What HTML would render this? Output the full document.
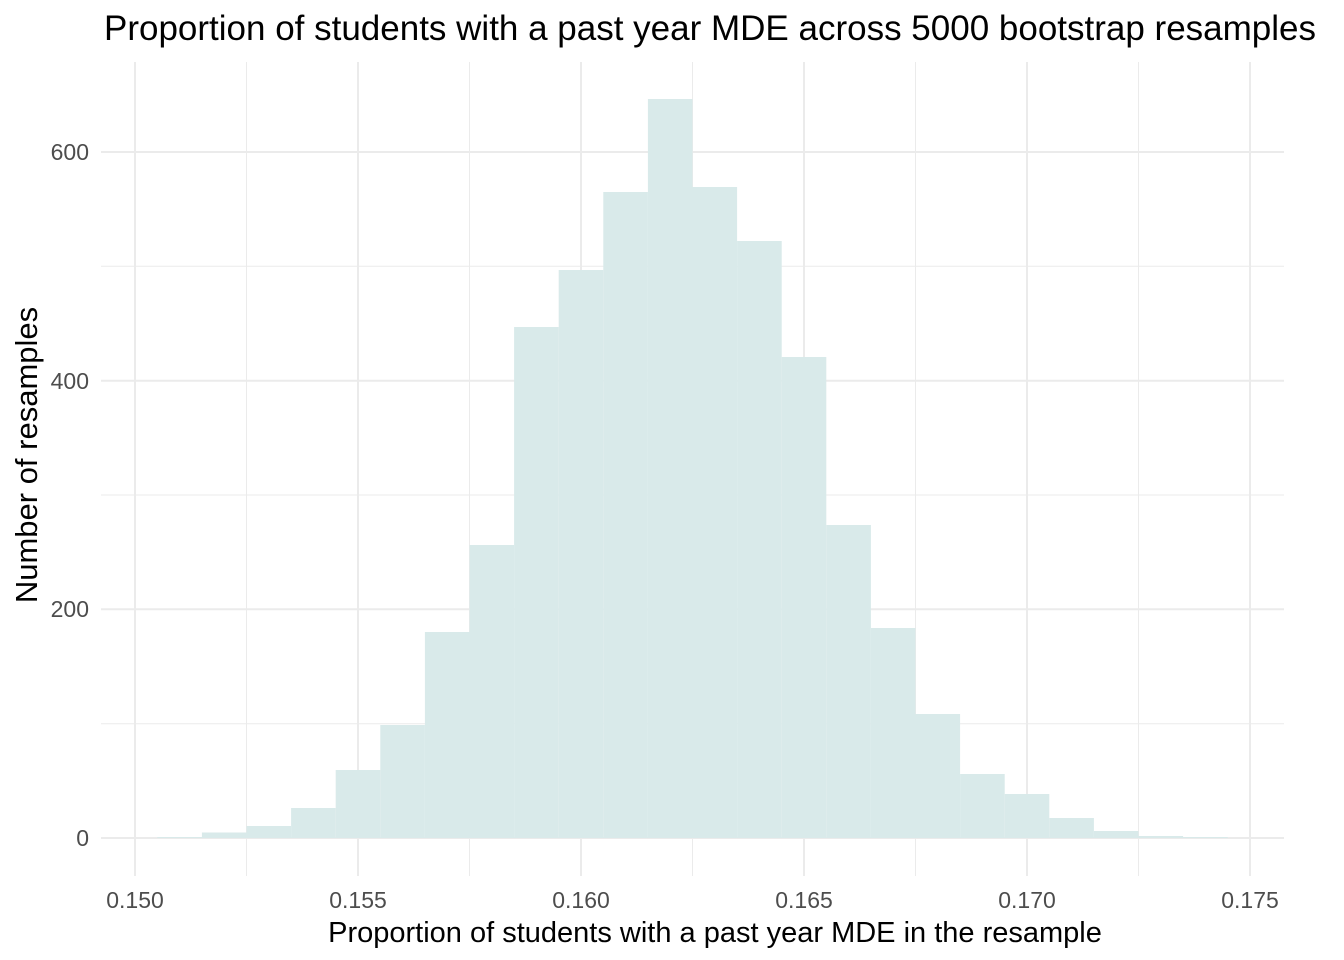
<!DOCTYPE html>
<html><head><style>body{margin:0;background:#fff}svg{display:block}</style></head><body>
<svg width="1344" height="960" xmlns="http://www.w3.org/2000/svg" font-family="Liberation Sans, sans-serif">
<g stroke="#ebebeb">
<g stroke-width="1">
<line x1="101" x2="1284" y1="723.7" y2="723.7"/><line x1="101" x2="1284" y1="495" y2="495"/><line x1="101" x2="1284" y1="266.3" y2="266.3"/>
<line x1="246.5" x2="246.5" y1="62" y2="876"/><line x1="469.5" x2="469.5" y1="62" y2="876"/><line x1="692.5" x2="692.5" y1="62" y2="876"/><line x1="915.5" x2="915.5" y1="62" y2="876"/><line x1="1138.5" x2="1138.5" y1="62" y2="876"/>
</g>
<g stroke-width="2">
<line x1="101" x2="1284" y1="838" y2="838"/><line x1="101" x2="1284" y1="609.3" y2="609.3"/><line x1="101" x2="1284" y1="380.7" y2="380.7"/><line x1="101" x2="1284" y1="152" y2="152"/>
<line x1="135" x2="135" y1="62" y2="876"/><line x1="358" x2="358" y1="62" y2="876"/><line x1="581" x2="581" y1="62" y2="876"/><line x1="804" x2="804" y1="62" y2="876"/><line x1="1027" x2="1027" y1="62" y2="876"/><line x1="1250" x2="1250" y1="62" y2="876"/>
</g></g>
<g fill="#d9eaea">
<rect x="157.3" y="837" width="44.6" height="1"/>
<rect x="201.9" y="832.5" width="44.6" height="5.5"/>
<rect x="246.5" y="826" width="44.6" height="12"/>
<rect x="291.1" y="808" width="44.6" height="30"/>
<rect x="335.7" y="770" width="44.6" height="68"/>
<rect x="380.3" y="725" width="44.6" height="113"/>
<rect x="424.9" y="632" width="44.6" height="206"/>
<rect x="469.5" y="545" width="44.6" height="293"/>
<rect x="514.1" y="327" width="44.6" height="511"/>
<rect x="558.7" y="270" width="44.6" height="568"/>
<rect x="603.3" y="192" width="44.6" height="646"/>
<rect x="647.9" y="99" width="44.6" height="739"/>
<rect x="692.5" y="187" width="44.6" height="651"/>
<rect x="737.1" y="241" width="44.6" height="597"/>
<rect x="781.7" y="357" width="44.6" height="481"/>
<rect x="826.3" y="525" width="44.6" height="313"/>
<rect x="870.9" y="628" width="44.6" height="210"/>
<rect x="915.5" y="714" width="44.6" height="124"/>
<rect x="960.1" y="774" width="44.6" height="64"/>
<rect x="1004.7" y="794" width="44.6" height="44"/>
<rect x="1049.3" y="818" width="44.6" height="20"/>
<rect x="1093.9" y="831" width="44.6" height="7"/>
<rect x="1138.5" y="836" width="44.6" height="2"/>
<rect x="1183.1" y="837" width="44.6" height="1"/>
</g>
<g fill="#4d4d4d" font-size="23" text-anchor="end">
<text x="89" y="846">0</text><text x="89" y="617">200</text><text x="89" y="389">400</text><text x="89" y="160">600</text>
</g>
<g fill="#4d4d4d" font-size="23" text-anchor="middle">
<text x="135" y="908">0.150</text><text x="358" y="908">0.155</text><text x="581" y="908">0.160</text><text x="804" y="908">0.165</text><text x="1027" y="908">0.170</text><text x="1250" y="908">0.175</text>
</g>
<text x="715" y="942" font-size="29" text-anchor="middle">Proportion of students with a past year MDE in the resample</text>
<text transform="translate(37,455) rotate(-90)" font-size="31" text-anchor="middle">Number of resamples</text>
<text x="710" y="40" font-size="35" text-anchor="middle">Proportion of students with a past year MDE across 5000 bootstrap resamples</text>
</svg>
</body></html>
